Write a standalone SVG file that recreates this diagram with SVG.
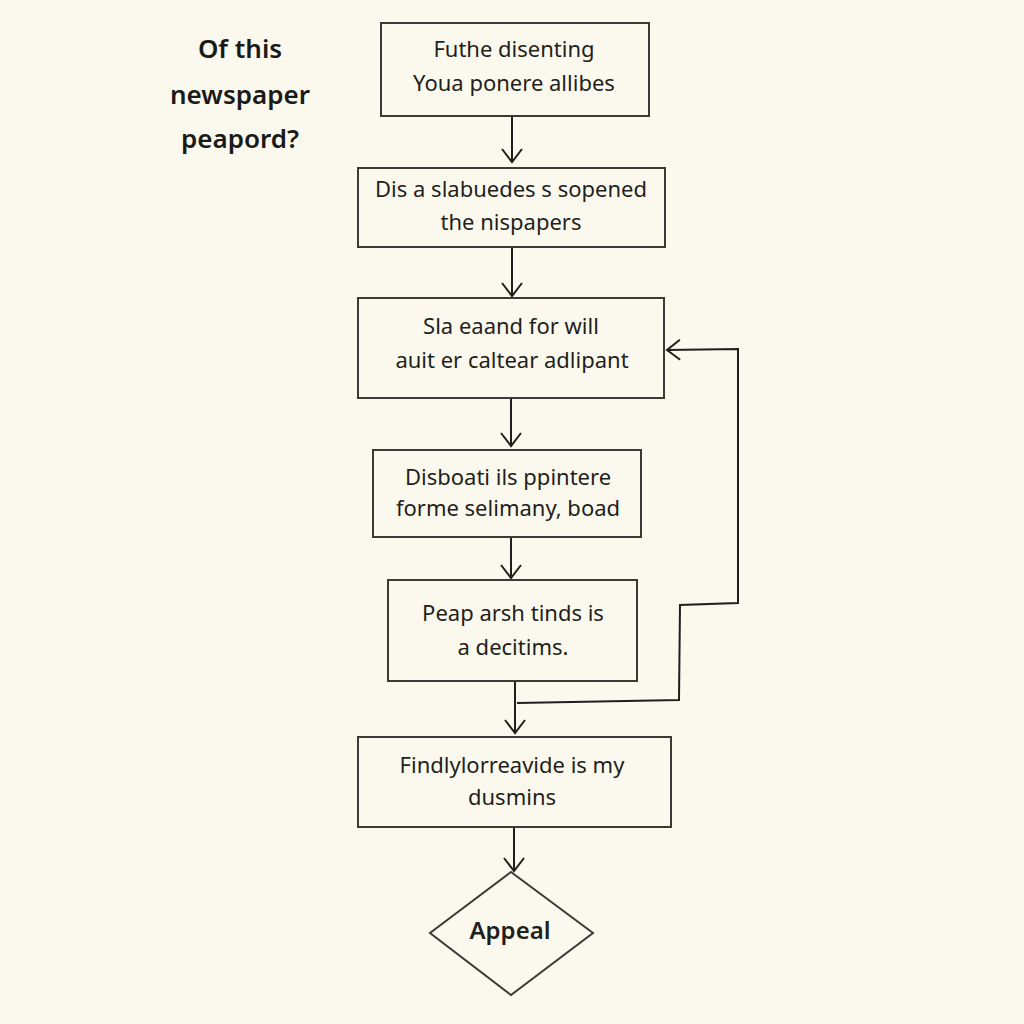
<svg xmlns="http://www.w3.org/2000/svg" width="1024" height="1024" viewBox="0 0 1024 1024">
<style>
.bg{fill:#fbf9ee}
.box{fill:#fbf9ee;stroke:#3a3a36;stroke-width:2}
.t{font-family:"Noto Sans","Open Sans",sans-serif;font-size:22px;fill:#1f1f1c;text-anchor:middle}
.h{font-family:"Noto Sans","Open Sans",sans-serif;font-size:26px;font-weight:600;fill:#1a1a18;text-anchor:middle}
.b{font-weight:600;font-size:24px}
.c{fill:none;stroke:#1f1f1c;stroke-width:2}
</style>
<defs>
<marker id="v" viewBox="-14 -12 16 24" refX="0" refY="0" markerWidth="16" markerHeight="24" markerUnits="userSpaceOnUse" orient="auto">
<path d="M-13,-10 L0,0 L-13,10" fill="none" stroke="#1f1f1c" stroke-width="2"/>
</marker>
</defs>
<rect class="bg" x="0" y="0" width="1024" height="1024"/>
<g id="title">
<text class="h" x="240" y="58">Of this</text>
<text class="h" x="240" y="104">newspaper</text>
<text class="h" x="240" y="148">peapord?</text>
</g>
<g id="connectors">
<path class="c" d="M512,116 L512,162" marker-end="url(#v)"/>
<path class="c" d="M512,247 L512,296" marker-end="url(#v)"/>
<path class="c" d="M511,398 L511,446" marker-end="url(#v)"/>
<path class="c" d="M511,537 L511,578" marker-end="url(#v)"/>
<path class="c" d="M515,681 L515,733" marker-end="url(#v)"/>
<path class="c" d="M514,827 L514,871" marker-end="url(#v)"/>
<path class="c" d="M517,703 L679,700 L680,605 L738,603 L738,349 L667,350" marker-end="url(#v)"/>
</g>
<g id="n1">
<rect class="box" x="381" y="23" width="268" height="93"/>
<text class="t" x="514" y="57">Futhe disenting</text>
<text class="t" x="514" y="91">Youa ponere allibes</text>
</g>
<g id="n2">
<rect class="box" x="358" y="168" width="307" height="79"/>
<text class="t" x="511" y="197">Dis a slabuedes s sopened</text>
<text class="t" x="511" y="230">the nispapers</text>
</g>
<g id="n3">
<rect class="box" x="358" y="298" width="306" height="100"/>
<text class="t" x="511" y="334">Sla eaand for will</text>
<text class="t" x="512" y="368">auit er caltear adlipant</text>
</g>
<g id="n4">
<rect class="box" x="373" y="450" width="268" height="87"/>
<text class="t" x="508" y="485">Disboati ils ppintere</text>
<text class="t" x="508" y="516">forme selimany, boad</text>
</g>
<g id="n5">
<rect class="box" x="388" y="580" width="249" height="101"/>
<text class="t" x="513" y="621">Peap arsh tinds is</text>
<text class="t" x="513" y="655">a decitims.</text>
</g>
<g id="n6">
<rect class="box" x="358" y="737" width="313" height="90"/>
<text class="t" x="512" y="773">Findlylorreavide is my</text>
<text class="t" x="512" y="805">dusmins</text>
</g>
<g id="n7">
<polygon class="box" points="511,872 593,933 511,995 430,933"/>
<text class="t b" x="510" y="939">Appeal</text>
</g>
</svg>
